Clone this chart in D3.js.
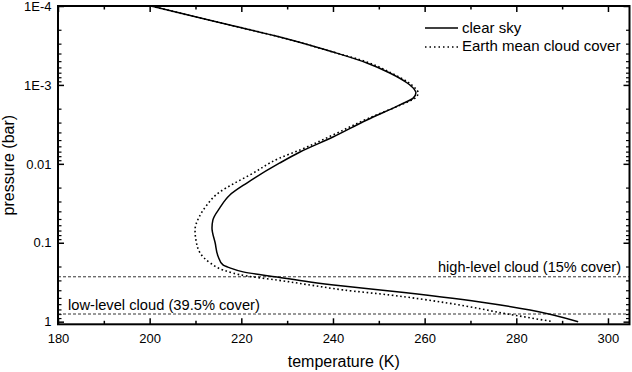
<!DOCTYPE html>
<html>
<head>
<meta charset="utf-8">
<script src="https://cdn.jsdelivr.net/npm/d3@7"></script>
<style>
  body { margin: 0; background: #fff; }
  svg { display: block; font-family: "Liberation Sans", Arial, sans-serif; }
</style>
</head>
<body>
<div id="chart"></div>
<script>
// temperature (K) vs pressure (bar)
var clearTemp = [200.3, 206.6, 217.5, 228.4, 240.0, 247.4, 252.4, 256.2, 257.7, 258.1, 257.5, 254.6,
  247.4, 240.0, 232.8, 228.4, 221.2, 217.5, 215.3, 213.8, 213.6, 214.3, 214.9, 216.0, 217.5,
  220.4, 227.8, 235.0, 242.2, 252.4, 272.1, 283.0, 293.5];
var clearPressure = [1.0e-4, 1.23e-4, 1.74e-4, 2.47e-4, 3.83e-4, 5.27e-4, 7.06e-4, 9.46e-4, 1.13e-3,
  1.26e-3, 1.47e-3, 1.79e-3, 2.78e-3, 4.57e-3, 7.08e-3, 9.75e-3, 0.0175, 0.0248, 0.0362, 0.0514,
  0.065, 0.1007, 0.147, 0.191, 0.208, 0.234, 0.272, 0.314, 0.353, 0.408, 0.562, 0.711, 1.0];

var cloudTemp = [200.3, 206.6, 217.5, 228.4, 240.0, 247.4, 252.7, 256.6, 258.1, 258.6, 257.9, 254.8,
  247.4, 240.0, 232.8, 228.4, 221.9, 218.2, 215.3, 212.5, 210.8, 209.9, 210.1, 211.0, 213.2,
  216.0, 221.2, 227.8, 235.0, 242.2, 252.4, 264.9, 279.3, 288.0];
var cloudPressure = [1.0e-4, 1.23e-4, 1.74e-4, 2.47e-4, 3.83e-4, 5.13e-4, 7.06e-4, 9.46e-4, 1.13e-3,
  1.26e-3, 1.47e-3, 1.79e-3, 2.70e-3, 4.31e-3, 6.67e-3, 8.43e-3, 0.0138, 0.0180, 0.0227, 0.0332,
  0.0471, 0.0689, 0.0922, 0.1346, 0.180, 0.221, 0.264, 0.297, 0.343, 0.396, 0.459, 0.579, 0.822, 1.0];

var seriesNames = ["clear sky", "Earth mean cloud cover"];
var cloudLevels = [0.27, 0.8];
var cloudLabels = ["high-level cloud (15% cover)", "low-level cloud (39.5% cover)"];

var xTicks = [180, 200, 220, 240, 260, 280, 300];
var xMinorTicks = [190, 210, 230, 250, 270, 290];
var yTicks = [1e-4, 1e-3, 1e-2, 1e-1, 1];
var yTickLabels = ["1E-4", "1E-3", "0.01", "0.1", "1"];

var width = 632, height = 372;
var margin = { top: 6, right: 2.5, bottom: 47.7, left: 58 };
var chartWidth = width - margin.left - margin.right;
var chartHeight = height - margin.top - margin.bottom;

// minor log ticks 2..9 in every decade
var yMinorTicks = [];
d3.range(-4, 0).forEach(k => {
  d3.range(2, 10).forEach(m => yMinorTicks.push(m * Math.pow(10, k)));
});

var svg = d3.select("#chart")
  .append("svg")
  .attr("width", width)
  .attr("height", height);

var g = svg.append("g")
  .attr("transform", `translate(${margin.left}, ${margin.top})`);

var xScale = d3.scaleLinear()
  .domain([180, 304.7])
  .range([0, chartWidth]);

// pressure grows downward
var yScale = d3.scaleLog()
  .domain([1e-4, 1.08])
  .range([0, chartHeight]);

// axes with inward ticks on all four sides
function styleAxis(sel, width) {
  sel.select(".domain").remove();
  sel.selectAll(".tick line").attr("stroke", "#000").attr("stroke-width", width);
  sel.selectAll(".tick text").attr("fill", "#000");
}

var xAxis = d3.axisBottom(xScale).tickValues(xTicks).tickSize(-6).tickPadding(9).tickFormat(d3.format("d"));
g.append("g")
  .attr("class", "x axis")
  .attr("transform", `translate(0, ${chartHeight})`)
  .call(xAxis)
  .call(s => styleAxis(s, 1.5))
  .attr("font-size", 13).attr("font-family", null);

g.append("g")
  .attr("transform", `translate(0, ${chartHeight})`)
  .call(d3.axisBottom(xScale).tickValues(xMinorTicks).tickSize(-3.5).tickFormat(""))
  .call(s => styleAxis(s, 1.5));

g.append("g")
  .call(d3.axisTop(xScale).tickValues(xTicks).tickSize(-6).tickFormat(""))
  .call(s => styleAxis(s, 1.5));
g.append("g")
  .call(d3.axisTop(xScale).tickValues(xMinorTicks).tickSize(-3.5).tickFormat(""))
  .call(s => styleAxis(s, 1.5));

var yAxis = d3.axisLeft(yScale).tickValues(yTicks).tickSize(-6).tickPadding(6.5)
  .tickFormat((d, i) => yTickLabels[i]);
g.append("g")
  .attr("class", "y axis")
  .call(yAxis)
  .call(s => styleAxis(s, 1.5))
  .attr("font-size", 13).attr("font-family", null);

g.append("g")
  .call(d3.axisLeft(yScale).tickValues(yMinorTicks).tickSize(-3.5).tickFormat(""))
  .call(s => styleAxis(s, 1.2));

g.append("g")
  .attr("transform", `translate(${chartWidth}, 0)`)
  .call(d3.axisRight(yScale).tickValues(yTicks).tickSize(-6).tickFormat(""))
  .call(s => styleAxis(s, 1.5));
g.append("g")
  .attr("transform", `translate(${chartWidth}, 0)`)
  .call(d3.axisRight(yScale).tickValues(yMinorTicks).tickSize(-3.5).tickFormat(""))
  .call(s => styleAxis(s, 1.2));

// cloud levels
var levels = g.append("g").attr("class", "clouds");
levels.selectAll("line")
  .data(cloudLevels)
  .enter()
  .append("line")
  .attr("x1", 0)
  .attr("x2", chartWidth)
  .attr("y1", d => yScale(d))
  .attr("y2", d => yScale(d))
  .attr("stroke", "#333")
  .attr("stroke-width", 1)
  .attr("stroke-dasharray", "3,2");

levels.append("text")
  .attr("x", chartWidth - 8.5)
  .attr("y", yScale(cloudLevels[0]) - 5)
  .attr("text-anchor", "end")
  .attr("font-size", 14.5)
  .text(cloudLabels[0]);

levels.append("text")
  .attr("x", 10)
  .attr("y", yScale(cloudLevels[1]) - 4.3)
  .attr("font-size", 14.7)
  .text(cloudLabels[1]);

// profiles
svg.append("defs").append("clipPath")
  .attr("id", "plot-clip")
  .append("rect")
  .attr("width", chartWidth)
  .attr("height", chartHeight);

var line = d3.line()
  .x(d => xScale(d[0]))
  .y(d => yScale(d[1]))
  .curve(d3.curveMonotoneY);

var profiles = g.append("g").attr("clip-path", "url(#plot-clip)");

profiles.append("path")
  .datum(d3.zip(cloudTemp, cloudPressure))
  .attr("fill", "none")
  .attr("stroke", "#000")
  .attr("stroke-width", 1.6)
  .attr("stroke-dasharray", "1.6,2.6")
  .attr("d", line);

profiles.append("path")
  .datum(d3.zip(clearTemp, clearPressure))
  .attr("fill", "none")
  .attr("stroke", "#000")
  .attr("stroke-width", 1.5)
  .attr("d", line);

// frame
g.append("rect")
  .attr("width", chartWidth)
  .attr("height", chartHeight)
  .attr("fill", "none")
  .attr("stroke", "#000")
  .attr("stroke-width", 2);

// legend
var legend = g.append("g").attr("transform", "translate(367, 0)");
legend.append("line")
  .attr("x1", 0).attr("x2", 33)
  .attr("y1", 22).attr("y2", 22)
  .attr("stroke", "#000").attr("stroke-width", 1.5);
legend.append("line")
  .attr("x1", 0).attr("x2", 33)
  .attr("y1", 41).attr("y2", 41)
  .attr("stroke", "#000").attr("stroke-width", 1.5)
  .attr("stroke-dasharray", "1.5,3");
legend.append("text")
  .attr("x", 37).attr("y", 27.3)
  .attr("font-size", 15)
  .text(seriesNames[0]);
legend.append("text")
  .attr("x", 37).attr("y", 44.7)
  .attr("font-size", 15)
  .text(seriesNames[1]);

// axis titles
svg.append("text")
  .attr("x", margin.left + chartWidth / 2)
  .attr("y", 367)
  .attr("text-anchor", "middle")
  .attr("font-size", 16)
  .text("temperature (K)");

svg.append("text")
  .attr("transform", `translate(14, ${margin.top + chartHeight / 2}) rotate(-90)`)
  .attr("text-anchor", "middle")
  .attr("font-size", 16)
  .text("pressure (bar)");
</script>
</body>
</html>
